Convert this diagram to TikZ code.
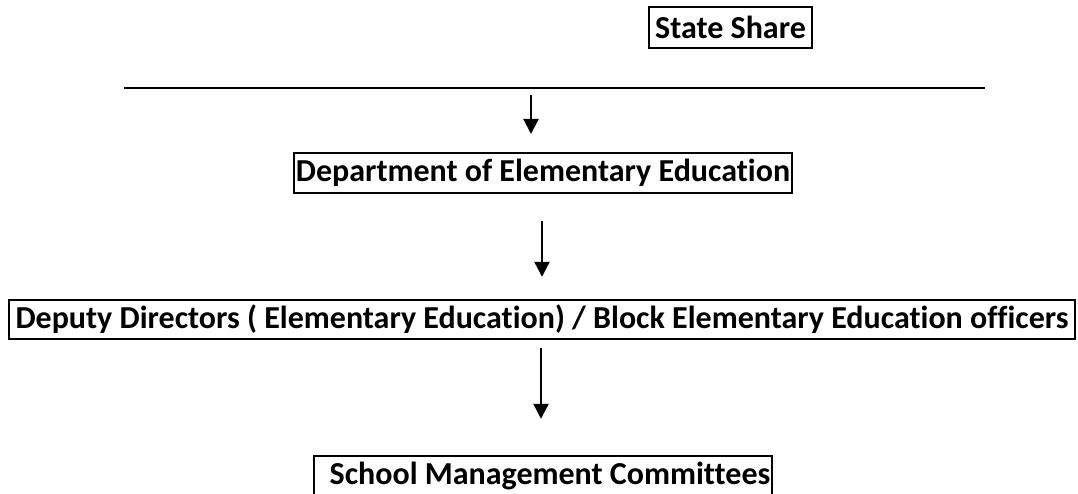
\documentclass[tikz,border=0pt]{standalone}
\usepackage{fontspec}
\setmainfont[Ligatures=NoCommon]{Carlito}
\usetikzlibrary{arrows.meta}
\begin{document}
\begin{tikzpicture}[x=1pt,y=-1pt,
  box/.style={draw=black,line width=2.4pt,inner sep=0pt,align=center,
    font=\fontsize{32}{36}\selectfont\bfseries},
  arr/.style={line width=2.2pt,-{Triangle[width=15pt,length=15pt]}},
  rule/.style={line width=2.4pt}]
\useasboundingbox (0,0) rectangle (1078,494);
\node[box,minimum width=163pt,minimum height=41pt] (ss) at (730.5,27.5) {State Share};
\coordinate (hl1) at (124,88);
\coordinate (hl2) at (985,88);
\draw[rule] (hl1) -- (hl2);
\node[box,minimum width=498pt,minimum height=40pt] (dept) at (543,173) {Department of Elementary Education};
\node[box,minimum width=1066pt,minimum height=39pt] (dep) at (542,319.5) {Deputy Directors ( Elementary Education) / Block Elementary Education officers};
\node[box,minimum width=458pt,minimum height=40pt] (smc) at (543,476) {\hspace{14pt}School Management Committees};
\coordinate (a1s) at (531,95);
\coordinate (a1e) at (531,134);
\draw[arr] (a1s) -- (a1e);
\draw[arr,shorten <=27pt,shorten >=22pt] (dept.south -| 542,0) -- (dep.north -| 542,0);
\draw[arr,shorten <=8pt,shorten >=36pt] (dep.south -| 541,0) -- (smc.north -| 541,0);
\end{tikzpicture}
\end{document}
